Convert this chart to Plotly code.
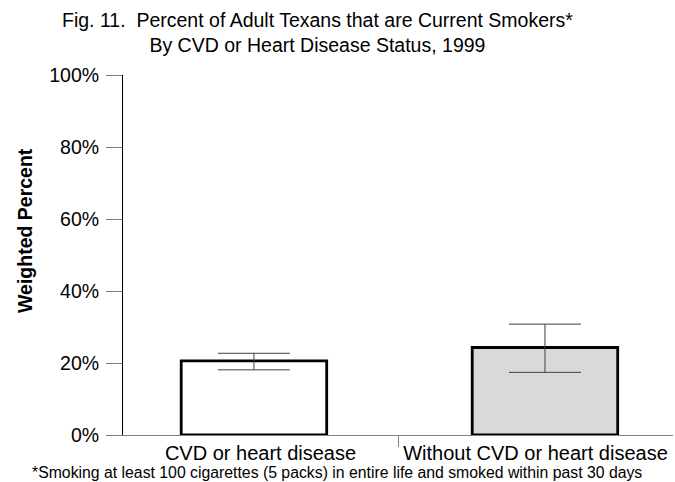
import plotly.graph_objects as go

categories = ["CVD or heart disease", "Without CVD or heart disease"]
percent = [20.6, 24.3]
ci_upper = [22.7, 30.8]
ci_lower = [18.1, 17.4]
fills = ["#ffffff", "#d9d9d9"]

err_plus = [u - p for u, p in zip(ci_upper, percent)]
err_minus = [p - l for p, l in zip(percent, ci_lower)]
positions = list(range(len(categories)))

FONT = "Liberation Sans, Arial, sans-serif"

fig = go.Figure()
# bars on the primary (hidden) x scale
fig.add_trace(go.Bar(
    x=positions,
    y=percent,
    width=0.5,
    marker=dict(color=fills, line=dict(color="#000000", width=2.8)),
    error_y=dict(
        type="data", symmetric=False,
        array=err_plus, arrayminus=err_minus,
        color="#404040", thickness=1, width=36,
    ),
    showlegend=False,
    hovertext=categories,
))
# invisible anchor trace for the labelled category axis
fig.add_trace(go.Scatter(
    x=positions, y=[0] * len(positions), xaxis="x2",
    mode="markers", marker=dict(opacity=0),
    showlegend=False, hoverinfo="skip",
))

W, H = 675, 482
L, R, T, B = 123, 2, 75, 47
pw = W - L - R
ph = H - T - B

fig.update_layout(
    width=W, height=H,
    margin=dict(l=L, r=R, t=T, b=B),
    paper_bgcolor="#ffffff", plot_bgcolor="#ffffff",
    font=dict(family=FONT, color="#000000", size=19.5),
    xaxis=dict(range=[-0.45, 1.44], visible=False),
    xaxis2=dict(
        overlaying="x", anchor="y", side="bottom",
        range=[-0.5, 1.5],
        tickvals=positions, ticktext=categories,
        ticks="", tickfont=dict(size=20),
        minor=dict(tickvals=[0.5], ticks="outside", ticklen=11,
                   tickcolor="#808080", tickwidth=1, showgrid=False),
        showline=True, linecolor="#808080", linewidth=1,
        showgrid=False, zeroline=False,
    ),
)

fig.update_yaxes(
    range=[0, 100], tickvals=[0, 20, 40, 60, 80, 100],
    ticktext=["0%", "20%", "40%", "60%", "80%", "100%"],
    showgrid=False, zeroline=False,
    showline=True, linecolor="#000000", linewidth=1,
    ticks="outside", ticklen=16, tickcolor="#808080", tickwidth=1,
    tickfont=dict(size=19.5), ticklabelstandoff=3,
)

def px_x(px):
    return (px - L) / pw

def px_y(py):
    return (H - B - py) / ph

fig.add_annotation(
    text="Fig. 11.  Percent of Adult Texans that are Current Smokers*<br>By CVD or Heart Disease Status, 1999",
    xref="paper", yref="paper", x=px_x(317), y=px_y(33),
    showarrow=False, font=dict(size=19.5), align="center",
    xanchor="center", yanchor="middle",
)
fig.add_annotation(
    text="<b>Weighted Percent</b>",
    xref="paper", yref="paper", x=px_x(25), y=px_y(231),
    showarrow=False, textangle=-90, font=dict(size=19.5),
    xanchor="center", yanchor="middle",
)
fig.add_annotation(
    text="*Smoking at least 100 cigarettes (5 packs) in entire life and smoked within past 30 days",
    xref="paper", yref="paper", x=px_x(337), y=px_y(472),
    showarrow=False, font=dict(size=15.8),
    xanchor="center", yanchor="middle",
)

fig.write_html("out.html")
